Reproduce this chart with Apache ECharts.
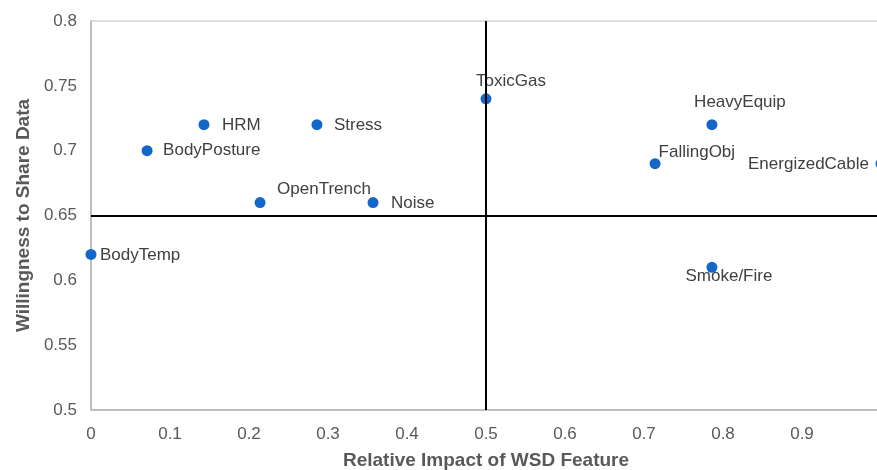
<!DOCTYPE html>
<html>
<head>
<meta charset="utf-8">
<script src="https://cdn.jsdelivr.net/npm/echarts@6/dist/echarts.min.js"></script>
<style>
  html, body { margin: 0; padding: 0; background: #fff; }
  #chart { width: 877px; height: 470px; }
</style>
</head>
<body>
<div id="chart"></div>
<script>
// features, impact (x) and willingness (y)
const names = ["BodyTemp", "BodyPosture", "HRM", "OpenTrench", "Stress", "Noise",
  "ToxicGas", "FallingObj", "HeavyEquip", "Smoke/Fire", "EnergizedCable"];
const impact = [0, 0.071, 0.143, 0.214, 0.286, 0.357, 0.5, 0.714, 0.786, 0.786, 1.0];
const willingness = [0.62, 0.70, 0.72, 0.66, 0.72, 0.66, 0.74, 0.69, 0.72, 0.61, 0.69];
const xTicks = [0, 0.1, 0.2, 0.3, 0.4, 0.5, 0.6, 0.7, 0.8, 0.9, 1];
const yTicks = [0.5, 0.55, 0.6, 0.65, 0.7, 0.75, 0.8];
const xSplit = 0.5;
const ySplit = 0.65;

// where each label sits relative to its point
const labelPos = {
  BodyTemp: { position: "right", distance: 3.5, offset: [0, 1] },
  BodyPosture: { position: "right", distance: 10.5 },
  HRM: { position: "right", distance: 12.5, offset: [0, 1] },
  OpenTrench: { position: "right", distance: 11.5, offset: [0, -13] },
  Stress: { position: "right", distance: 11.5, offset: [0, 1] },
  Noise: { position: "right", distance: 12.5, offset: [0, 1] },
  ToxicGas: { position: "top", distance: 3, offset: [25, 0] },
  FallingObj: { position: "right", distance: -2, offset: [0, -11] },
  HeavyEquip: { position: "top", distance: 8, offset: [28, 0] },
  "Smoke/Fire": { position: "bottom", distance: 0, offset: [17, -5] },
  EnergizedCable: { position: "left", distance: 6.5, offset: [0, 1] },
};

const grey = "#595959";
const font = "Liberation Sans, Arial, sans-serif";

const chart = echarts.init(document.getElementById("chart"));

const points = names.map((n, i) => ({
  name: n,
  value: [impact[i], willingness[i]],
  label: Object.assign({ show: true }, labelPos[n]),
}));

chart.setOption({
  animation: false,
  grid: {
    left: 91, top: 21, width: 790, height: 389,
    outerBoundsMode: "none",
    containLabel: false,
    show: true, borderColor: "#bfbfbf", borderWidth: 1,
  },
  xAxis: {
    type: "value",
    min: xTicks[0], max: xTicks[xTicks.length - 1], interval: 0.1,
    name: "Relative Impact of WSD Feature",
    nameLocation: "middle", nameGap: 41,
    nameTextStyle: { color: grey, fontSize: 19, fontWeight: "bold", fontFamily: font },
    axisLine: { show: true, lineStyle: { color: "#bfbfbf", width: 2 } },
    axisTick: { show: false },
    splitLine: { show: false },
    axisLabel: { color: grey, fontSize: 17, fontFamily: font, margin: 16, hideOverlap: false },
  },
  yAxis: {
    type: "value",
    min: yTicks[0], max: yTicks[yTicks.length - 1], interval: 0.05,
    name: "Willingness to Share Data",
    nameLocation: "middle", nameGap: 58,
    nameTextStyle: { color: grey, fontSize: 19, fontWeight: "bold", fontFamily: font },
    axisLine: { show: true, lineStyle: { color: "#bfbfbf", width: 2 } },
    axisTick: { show: false },
    splitLine: { show: false },
    axisLabel: {
      color: grey, fontSize: 17, fontFamily: font, margin: 14,
      formatter: v => String(Math.round(v * 100) / 100),
    },
  },
  series: [{
    type: "scatter",
    symbolSize: 11,
    itemStyle: { color: "#1467c9", opacity: 1 },
    label: { color: "#404040", fontSize: 17, fontFamily: font, formatter: "{b}" },
    data: points,
    markLine: {
      silent: true,
      symbol: "none",
      label: { show: false },
      lineStyle: { color: "#000", width: 2, type: "solid" },
      data: [{ xAxis: xSplit }, { yAxis: ySplit }],
    },
  }],
});
</script>
</body>
</html>
